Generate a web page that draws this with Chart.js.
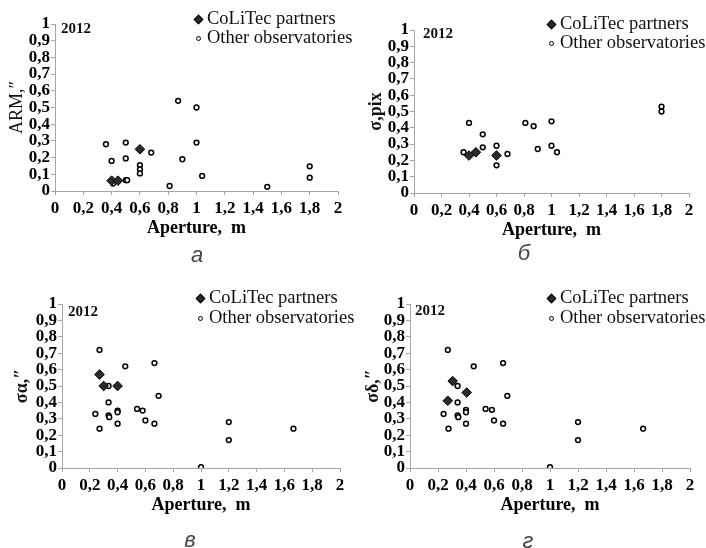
<!DOCTYPE html>
<html>
<head>
<meta charset="utf-8">
<script src="https://cdn.jsdelivr.net/npm/chart.js@4/dist/chart.umd.min.js"></script>
<style>
  body { margin: 0; background: #fff; }
  #page { position: relative; width: 706px; height: 548px; overflow: hidden; }
  canvas { position: absolute; }
  .yr { position: absolute; font: bold 15px "Liberation Serif", serif; line-height: 16px; color: #111; }
  .lg { position: absolute; font: 18.5px "Liberation Serif", serif; line-height: 20px; color: #111; white-space: nowrap; }
  .dia { position: absolute; width: 5px; height: 5px; background: #2b2b2b; border: 0.5px solid #000; transform: rotate(45deg); }
  .cir { position: absolute; width: 3px; height: 3px; border: 1px solid #000; border-radius: 50%; background: #fff; }
  .cap { position: absolute; font: italic 22px "Liberation Sans", sans-serif; color: #444; transform: translate(-50%, -50%); }
</style>
</head>
<body>
<div id="page"></div>
<script>
// оси
const xTickLabels = ['0', '0,2', '0,4', '0,6', '0,8', '1', '1,2', '1,4', '1,6', '1,8', '2'];
const yTickLabels = ['0', '0,1', '0,2', '0,3', '0,4', '0,5', '0,6', '0,7', '0,8', '0,9', '1'];
const seriesNames = ['CoLiTec partners', 'Other observatories'];

// а) ARM
const colitecA_x = [0.40, 0.445, 0.60];
const colitecA_y = [0.062, 0.062, 0.25];
const otherA_x = [0.36, 0.40, 0.41, 0.50, 0.50, 0.50, 0.51, 0.60, 0.60, 0.60, 0.68, 0.81, 0.87, 0.90, 1.00, 1.00, 1.04, 1.50, 1.80, 1.80];
const otherA_y = [0.28, 0.18, 0.045, 0.29, 0.195, 0.065, 0.065, 0.155, 0.13, 0.105, 0.23, 0.03, 0.54, 0.19, 0.50, 0.29, 0.09, 0.025, 0.148, 0.08];

// б) sigma, pix
const colitecB_x = [0.40, 0.45, 0.60];
const colitecB_y = [0.23, 0.25, 0.23];
const otherB_x = [0.36, 0.40, 0.50, 0.50, 0.60, 0.60, 0.68, 0.81, 0.87, 0.90, 1.00, 1.00, 1.04, 1.80, 1.80];
const otherB_y = [0.25, 0.43, 0.36, 0.28, 0.29, 0.17, 0.24, 0.43, 0.41, 0.27, 0.44, 0.29, 0.25, 0.53, 0.50];

// в) sigma alpha
const colitecC_x = [0.27, 0.30, 0.40];
const colitecC_y = [0.57, 0.50, 0.50];
const otherC_x = [0.27, 0.24, 0.27, 0.335, 0.335, 0.335, 0.34, 0.40, 0.40, 0.40, 0.455, 0.54, 0.58, 0.60, 0.665, 0.665, 0.695, 1.00, 1.20, 1.20, 1.665];
const otherC_y = [0.72, 0.33, 0.24, 0.50, 0.40, 0.32, 0.31, 0.35, 0.34, 0.27, 0.62, 0.36, 0.35, 0.29, 0.64, 0.27, 0.44, 0.005, 0.28, 0.17, 0.24];

// г) sigma delta
const colitecD_x = [0.27, 0.305, 0.405];
const colitecD_y = [0.41, 0.53, 0.46];
const otherD_x = [0.27, 0.24, 0.275, 0.34, 0.34, 0.34, 0.345, 0.40, 0.40, 0.40, 0.455, 0.54, 0.585, 0.60, 0.665, 0.665, 0.695, 1.00, 1.20, 1.20, 1.665];
const otherD_y = [0.72, 0.33, 0.24, 0.50, 0.40, 0.32, 0.31, 0.355, 0.34, 0.27, 0.62, 0.36, 0.355, 0.29, 0.64, 0.27, 0.44, 0.005, 0.28, 0.17, 0.24];

const page = document.getElementById('page');
const toPts = (xs, ys) => xs.map((x, i) => ({ x: x, y: ys[i] }));
const tickFont = { family: 'Liberation Serif', size: 17, weight: 'bold' };
const axisGray = '#a6a6a6';

const panels = [
  { x: 0, y: 0, pad: { left: 0, right: 15, top: 24, bottom: 35 }, ytitle: 'ARM,″', ybold: false, ytPad: 6,
    cx: colitecA_x, cy: colitecA_y, ox: otherA_x, oy: otherA_y,
    year: [61, 20], leg: [198, 19, 38], cap: ['а', 197, 255] },
  { x: 353, y: 0, pad: { left: 6, right: 17, top: 30, bottom: 33 }, ytitle: 'σ,pix', ybold: true, ytPad: 7,
    cx: colitecB_x, cy: colitecB_y, ox: otherB_x, oy: otherB_y,
    year: [423, 25], leg: [551, 24, 43], cap: ['б', 524, 253] },
  { x: 0, y: 274, pad: { left: 7, right: 13, top: 30, bottom: 32 }, ytitle: 'σα,″', ybold: true, ytPad: 5,
    cx: colitecC_x, cy: colitecC_y, ox: otherC_x, oy: otherC_y,
    year: [68, 303], leg: [200, 298, 318], cap: ['в', 190, 540] },
  { x: 353, y: 274, pad: { left: 2, right: 16, top: 30, bottom: 32 }, ytitle: 'σδ,″', ybold: true, ytPad: 8,
    cx: colitecD_x, cy: colitecD_y, ox: otherD_x, oy: otherD_y,
    year: [415, 302], leg: [551, 298, 318], cap: ['г', 528, 541] }
];

function addDiv(cls, left, top, text) {
  const d = document.createElement('div');
  d.className = cls;
  d.style.left = left + 'px';
  d.style.top = top + 'px';
  if (text) d.textContent = text;
  page.appendChild(d);
  return d;
}

panels.forEach(p => {
  const cv = document.createElement('canvas');
  cv.width = 353; cv.height = 274;
  cv.style.left = p.x + 'px'; cv.style.top = p.y + 'px';
  page.appendChild(cv);

  new Chart(cv, {
    type: 'scatter',
    data: {
      datasets: [
        { label: seriesNames[0], data: toPts(p.cx, p.cy), pointStyle: 'rectRot', pointRadius: 4.8,
          pointBackgroundColor: '#2b2b2b', pointBorderColor: '#000', pointBorderWidth: 1 },
        { label: seriesNames[1], data: toPts(p.ox, p.oy), pointStyle: 'circle', pointRadius: 2.4,
          pointBackgroundColor: '#fff', pointBorderColor: '#000', pointBorderWidth: 1.5 }
      ]
    },
    options: {
      responsive: false,
      animation: false,
      layout: { padding: p.pad },
      plugins: { legend: { display: false }, tooltip: { enabled: false } },
      scales: {
        x: {
          type: 'linear', min: 0, max: 2,
          afterFit: s => { s.height = 48; },
          ticks: { stepSize: 0.2, autoSkip: false, maxRotation: 0, padding: 3, color: '#000', font: tickFont,
                   callback: (v, i) => xTickLabels[i] },
          grid: { drawOnChartArea: false, tickLength: 4, color: axisGray },
          border: { color: axisGray },
          title: { display: true, text: 'Aperture,  m', color: '#000', padding: { top: 0, bottom: 0 },
                   font: { family: 'Liberation Serif', size: 18, weight: 'bold' } }
        },
        y: {
          type: 'linear', min: 0, max: 1,
          afterFit: s => { s.width = 55; },
          ticks: { stepSize: 0.1, autoSkip: false, padding: 1, color: '#000', font: tickFont,
                   callback: (v, i) => yTickLabels[i] },
          grid: { drawOnChartArea: false, tickLength: 4, color: axisGray },
          border: { color: axisGray },
          title: { display: true, text: p.ytitle, color: '#111', padding: { top: p.ytPad, bottom: 0 },
                   font: { family: 'Liberation Serif', size: 18, weight: p.ybold ? 'bold' : 'normal' } }
        }
      }
    }
  });

  // подписи поверх графика
  addDiv('yr', p.year[0], p.year[1], '2012');
  const mx = p.leg[0];
  addDiv('dia', mx - 3, p.leg[1] - 3);
  addDiv('cir', mx - 2.5, p.leg[2] - 2.5);
  addDiv('lg', mx + 9, p.leg[1] - 11, seriesNames[0]);
  addDiv('lg', mx + 9, p.leg[2] - 11, seriesNames[1]);
  addDiv('cap', p.cap[1], p.cap[2], p.cap[0]);
});
</script>
</body>
</html>
